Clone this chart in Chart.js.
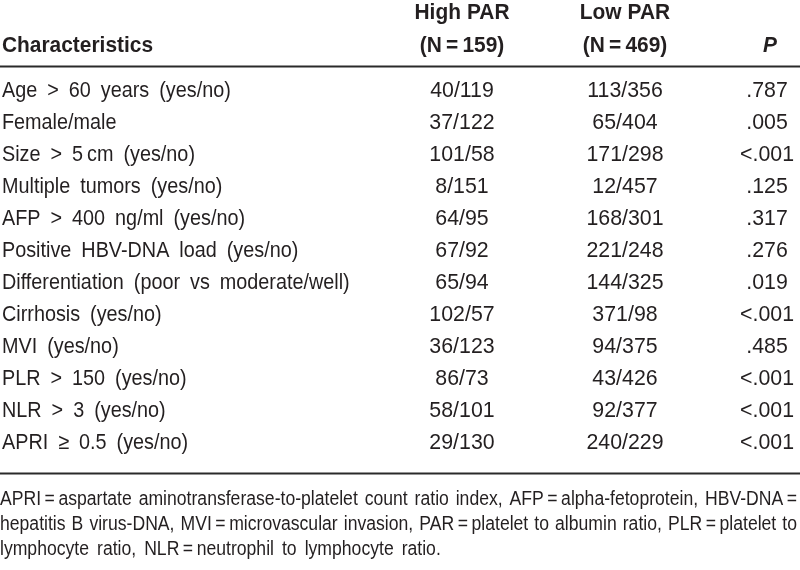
<!DOCTYPE html>
<html>
<head>
<meta charset="utf-8">
<title>PAR characteristics</title>
<script src="https://cdn.jsdelivr.net/npm/chart.js@4.4.1/dist/chart.umd.min.js"></script>
<style>
  html, body { margin: 0; padding: 0; background: #fff; }
  canvas { display: block; }
</style>
</head>
<body>
<canvas id="tableChart" width="800" height="570"></canvas>
<script>
// Table content
const characteristics = [
    'Age > 60 years (yes/no)',
    'Female/male',
    'Size > 5\u2009cm (yes/no)',
    'Multiple tumors (yes/no)',
    'AFP > 400 ng/ml (yes/no)',
    'Positive HBV-DNA load (yes/no)',
    'Differentiation (poor vs moderate/well)',
    'Cirrhosis (yes/no)',
    'MVI (yes/no)',
    'PLR > 150 (yes/no)',
    'NLR > 3 (yes/no)',
    'APRI \u2265 0.5 (yes/no)'
];
const highPAR = ['40/119', '37/122', '101/58', '8/151', '64/95', '67/92', '65/94', '102/57', '36/123', '86/73', '58/101', '29/130'];
const lowPAR = ['113/356', '65/404', '171/298', '12/457', '168/301', '221/248', '144/325', '371/98', '94/375', '43/426', '92/377', '240/229'];
const pValues = ['.787', '.005', '<.001', '.125', '.317', '.276', '.019', '<.001', '.485', '<.001', '<.001', '<.001'];

const headerLine1 = ['', 'High PAR', 'Low PAR', ''];
const headerLine2 = ['Characteristics', '(N\u2009=\u2009159)', '(N\u2009=\u2009469)', 'P'];

const footnoteLines = [
    'APRI\u2009=\u2009aspartate aminotransferase-to-platelet count ratio index, AFP\u2009=\u2009alpha-fetoprotein, HBV-DNA\u2009=',
    'hepatitis B virus-DNA, MVI\u2009=\u2009microvascular invasion, PAR\u2009=\u2009platelet to albumin ratio, PLR\u2009=\u2009platelet to',
    'lymphocyte ratio, NLR\u2009=\u2009neutrophil to lymphocyte ratio.'
];

// Layout (x in pixels, y in row units)
const colX = [2, 462, 625, 767];
const colAlign = ['left', 'center', 'center', 'center'];
const colSqueeze = [0.9, 0.97, 0.97, 0.97];
const rowStep = 32;          // px per row
const firstBaseline = 97;    // px, baseline of row 0
const headerY = [-2.44, -1.41];
const ruleY = [-0.98, 11.75];
const footY = [12.75, 13.53, 14.31];
const TEXT = '#231f20';
const FONT = '"Liberation Sans", Arial, sans-serif';

// draws a string word by word, squeezed horizontally by sx
function drawWords(ctx, str, x, y, align, sx, space, fullWidth) {
    const words = str.split(' ');
    const widths = words.map(w => ctx.measureText(w).width * sx);
    let glyphs = widths.reduce((a, b) => a + b, 0);
    if (fullWidth && words.length > 1) {
        space = (fullWidth - glyphs) / (words.length - 1);
        if (space < 3) {
            sx = sx * (fullWidth - 3 * (words.length - 1)) / glyphs;
            for (let i = 0; i < widths.length; i++) widths[i] = ctx.measureText(words[i]).width * sx;
            glyphs = widths.reduce((a, b) => a + b, 0);
            space = (fullWidth - glyphs) / (words.length - 1);
        }
    }
    const total = glyphs + space * (words.length - 1);
    let start = align === 'left' ? x : align === 'center' ? x - total / 2 : x - total;
    words.forEach((w, i) => {
        ctx.save();
        ctx.translate(start, y);
        ctx.scale(sx, 1);
        ctx.textAlign = 'left';
        ctx.fillText(w, 0, 0);
        ctx.restore();
        start += widths[i] + space;
    });
}

const tablePlugin = {
    id: 'tablePlugin',
    beforeDraw(chart) {
        const c = chart.ctx;
        c.save();
        c.fillStyle = '#fff';
        c.fillRect(0, 0, chart.width, chart.height);
        c.restore();
    },
    afterDatasetsDraw(chart) {
        const c = chart.ctx;
        const xs = chart.scales.x;
        const ys = chart.scales.y;
        c.save();
        c.fillStyle = TEXT;
        c.textBaseline = 'alphabetic';

        // header
        c.font = 'bold 22px ' + FONT;
        headerLine1.forEach((t, i) => {
            if (t) drawWords(c, t, xs.getPixelForValue(colX[i]), ys.getPixelForValue(headerY[0]), colAlign[i], 0.95, 6);
        });
        headerLine2.forEach((t, i) => {
            c.font = (i === 3 ? 'italic bold 22px ' : 'bold 22px ') + FONT;
            const x = xs.getPixelForValue(i === 3 ? colX[i] + 3 : colX[i]);
            drawWords(c, t, x, ys.getPixelForValue(headerY[1]), colAlign[i], 0.95, 6);
        });

        // body cells, placed at each point of the datasets
        c.font = '22px ' + FONT;
        chart.data.datasets.forEach((ds, di) => {
            const meta = chart.getDatasetMeta(di);
            meta.data.forEach((pt, i) => {
                drawWords(c, ds.cells[i], pt.x, pt.y, colAlign[di], colSqueeze[di], 10);
            });
        });

        // rules
        c.strokeStyle = '#2a2a2a';
        c.lineWidth = 2;
        ruleY.forEach(v => {
            const y = Math.round(ys.getPixelForValue(v)) + 0.5;
            c.beginPath();
            c.moveTo(chart.chartArea.left, y);
            c.lineTo(chart.chartArea.right, y);
            c.stroke();
        });

        // footnote
        c.font = '20px ' + FONT;
        footnoteLines.forEach((t, i) => {
            const last = i === footnoteLines.length - 1;
            drawWords(c, t, xs.getPixelForValue(0), ys.getPixelForValue(footY[i]), 'left', 0.88, 8,
                last ? 0 : xs.getPixelForValue(797));
        });
        c.restore();
    }
};

const columns = [characteristics, highPAR, lowPAR, pValues];
const datasets = columns.map((cells, ci) => ({
    label: ['Characteristics', 'High PAR', 'Low PAR', 'P'][ci],
    cells: cells,
    data: cells.map((_, ri) => ({ x: colX[ci], y: ri })),
    pointRadius: 0
}));

const chart = new Chart(document.getElementById('tableChart'), {
    type: 'scatter',
    data: { datasets: datasets },
    options: {
        responsive: false,
        animation: false,
        events: [],
        layout: { padding: 0 },
        plugins: { legend: { display: false }, tooltip: { enabled: false } },
        scales: {
            x: { type: 'linear', display: false, min: 0, max: 800 },
            y: {
                type: 'linear', display: false, reverse: true,
                min: -firstBaseline / rowStep,
                max: (570 - firstBaseline) / rowStep
            }
        }
    },
    plugins: [tablePlugin]
});
</script>
</body>
</html>
